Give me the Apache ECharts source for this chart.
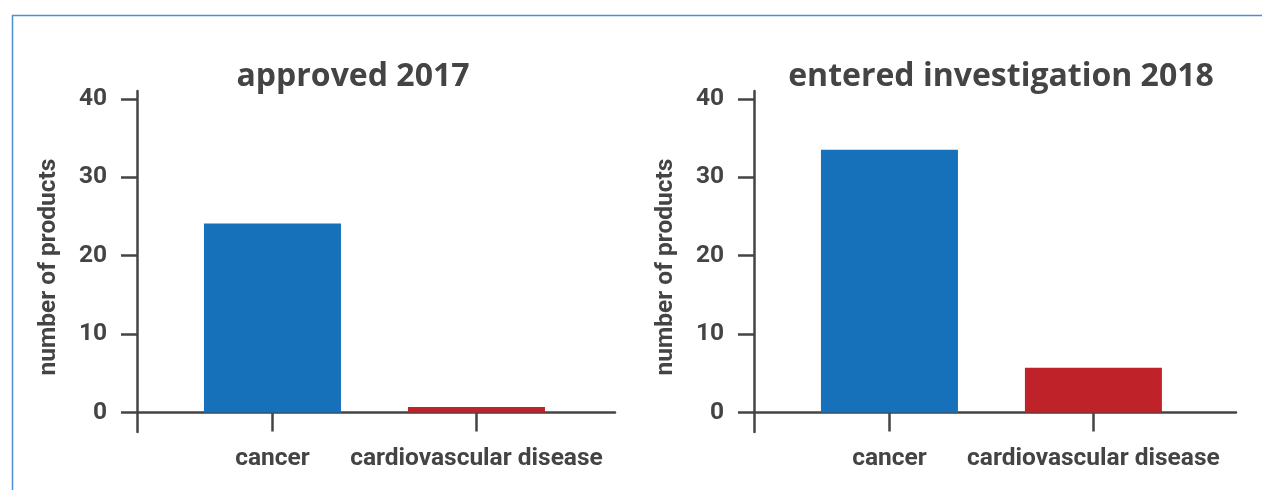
<!DOCTYPE html>
<html>
<head>
<meta charset="utf-8">
<script src="https://cdn.jsdelivr.net/npm/echarts@6/dist/echarts.min.js"></script>
<style>
  html, body { margin: 0; padding: 0; background: #ffffff; }
  #chart { width: 1262px; height: 490px; }
</style>
</head>
<body>
<div id="chart"></div>
<script>
// ---- data ----
const categories = ['cancer', 'cardiovascular disease'];
const approved2017 = [24.1, 0.7];
const investigation2018 = [33.5, 5.7];
const panelTitles = ['approved 2017', 'entered investigation 2018'];
const yTicks = [0, 10, 20, 30, 40];
const yAxisName = 'number of products';

// ---- styles ----
const categoryColors = ['#1771ba', '#bf2229'];
const ink = '#444444';
const labelFont = 'Roboto';
const labelWeight = 'bold';
const labelSize = 24.5;

const chart = echarts.init(document.getElementById('chart'), null, { renderer: 'canvas' });

const grids = [
  { left: 137, top: 91, width: 478, height: 341 },
  { left: 754, top: 91, width: 482, height: 341 }
];
const xMax = [1.679, 1.699];

function makeX(i) {
  return {
    type: 'value', gridIndex: i, min: -0.664, max: xMax[i],
    axisLine: { onZero: true, lineStyle: { color: ink, width: 2.5 } },
    axisTick: { show: true, customValues: categories.map((c, k) => k), length: 19, lineStyle: { color: ink, width: 2.5 } },
    axisLabel: {
      customValues: categories.map((c, k) => k),
      formatter: v => categories[Math.round(v)] || '',
      color: ink, fontFamily: labelFont, fontSize: labelSize, fontWeight: labelWeight, margin: 14
    },
    splitLine: { show: false }
  };
}
function makeY(i) {
  return {
    type: 'value', gridIndex: i, min: -2.5, max: 41,
    name: yAxisName, nameLocation: 'middle', nameGap: 76, nameRotate: 90,
    nameTextStyle: { color: ink, fontFamily: labelFont, fontSize: labelSize, fontWeight: labelWeight, padding: [0, 11, 0, 0] },
    axisLine: { show: true, onZero: false, lineStyle: { color: ink, width: 2.5 } },
    axisTick: { show: true, customValues: yTicks, length: 16, lineStyle: { color: ink, width: 2.5 } },
    axisLabel: { customValues: yTicks, color: ink, fontFamily: labelFont, fontSize: labelSize, fontWeight: labelWeight, margin: 30 },
    splitLine: { show: false }
  };
}
function makeSeries(values, i) {
  return {
    type: 'bar', xAxisIndex: i, yAxisIndex: i, barWidth: 137,
    data: values.map((v, k) => ({ value: [k, v], itemStyle: { color: categoryColors[k] } })),
    silent: true, animation: false
  };
}

chart.setOption({
  backgroundColor: '#ffffff',
  animation: false,
  title: [
    { text: panelTitles[0], left: 353, top: 61, textAlign: 'center', padding: 0,
      textStyle: { color: ink, fontFamily: 'Open Sans', fontWeight: 'bold', fontSize: 32 } },
    { text: panelTitles[1], left: 1001, top: 61, textAlign: 'center', padding: 0,
      textStyle: { color: ink, fontFamily: 'Open Sans', fontWeight: 'bold', fontSize: 32 } }
  ],
  graphic: [
    { type: 'rect', silent: true, z: -1,
      shape: { x: 12.5, y: 15.5, width: 1270, height: 500 },
      style: { fill: 'none', stroke: '#4a90d4', lineWidth: 1.5 } }
  ],
  grid: grids,
  xAxis: [makeX(0), makeX(1)],
  yAxis: [makeY(0), makeY(1)],
  series: [makeSeries(approved2017, 0), makeSeries(investigation2018, 1)]
});
</script>
</body>
</html>
